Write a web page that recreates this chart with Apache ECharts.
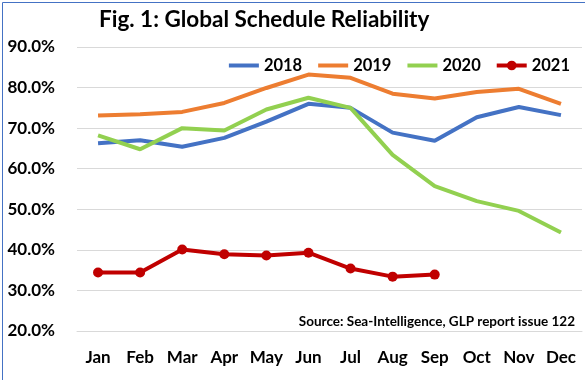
<!DOCTYPE html>
<html>
<head>
<meta charset="utf-8">
<script src="https://cdn.jsdelivr.net/npm/echarts@6/dist/echarts.min.js"></script>
<style>
html,body{margin:0;padding:0;background:#fff;}
#c{width:585px;height:380px;}
</style>
</head>
<body>
<div id="c"></div>
<script>
var months = ['Jan','Feb','Mar','Apr','May','Jun','Jul','Aug','Sep','Oct','Nov','Dec'];
var s2018 = [66.3, 67.0, 65.4, 67.6, 71.6, 76.0, 75.0, 68.9, 66.9, 72.7, 75.2, 73.2];
var s2019 = [73.1, 73.4, 74.0, 76.2, 79.9, 83.2, 82.4, 78.5, 77.3, 78.9, 79.7, 76.0];
var s2020 = [68.2, 64.8, 70.0, 69.4, 74.6, 77.5, 75.0, 63.4, 55.7, 52.0, 49.6, 44.3];
var s2021 = [34.4, 34.4, 40.1, 38.9, 38.6, 39.3, 35.4, 33.4, 33.9];
var seriesNames = ['2018','2019','2020','2021'];
var yTicks = {min: 20, max: 90, step: 10};
var titleText = 'Fig. 1: Global Schedule Reliability';
var sourceText = 'Source: Sea-Intelligence, GLP report issue 122';

var FONT = 'Lato';
var chart = echarts.init(document.getElementById('c'), null, {renderer:'canvas'});
function lineSeries(name, data, color, marker) {
  return {
    name: name, type: 'line', data: data,
    symbol: marker ? 'circle' : 'none',
    symbolSize: 10,
    showSymbol: !!marker,
    lineStyle: {color: color, width: 4},
    itemStyle: {color: color},
    emphasis: {disabled: true},
    animation: false
  };
}
var legendData = seriesNames.map(function(n, i){
  return i < 3 ? {name: n, itemStyle: {opacity: 0}, lineStyle: {width: 4}} : {name: n, lineStyle: {width: 4}};
});
chart.setOption({
  animation: false,
  title: {
    text: titleText, left: 94, top: 3,
    textStyle: {fontFamily: FONT, fontWeight: 'bold', fontSize: 22.5, color: '#000'}
  },
  legend: {
    right: 10, top: 52, itemWidth: 30, itemHeight: 12, itemGap: 14,
    data: legendData,
    lineStyle: {width: 4},
    textStyle: {fontFamily: FONT, fontWeight: 'bold', fontSize: 16.5, color: '#000'}
  },
  grid: {left: 77, right: 3, top: 47, bottom: 49, containLabel: false},
  xAxis: {
    type: 'category', data: months, boundaryGap: true,
    axisLine: {lineStyle: {color: '#D9D9D9', width: 1}},
    axisTick: {inside: true, length: 6, lineStyle: {color: '#D9D9D9'}},
    axisLabel: {interval: 0, margin: 18, fontFamily: FONT, fontWeight: 'bold', fontSize: 17, color: '#000'}
  },
  yAxis: {
    type: 'value', min: yTicks.min, max: yTicks.max, interval: yTicks.step,
    axisLine: {show: false}, axisTick: {show: false},
    splitLine: {lineStyle: {color: '#D9D9D9', width: 1}},
    axisLabel: {margin: 22, fontFamily: FONT, fontWeight: 'bold', fontSize: 17, color: '#000',
      formatter: function(v){ return v.toFixed(1) + '%'; }}
  },
  graphic: [
    {type: 'rect', left: 0, top: 0, silent: true, z: 100,
     shape: {x: 0.5, y: 0.5, width: 583, height: 378},
     style: {fill: 'none', stroke: '#4472C4', lineWidth: 1}},
    {type: 'text', right: 10, top: 315, z: 100,
     style: {text: sourceText, font: 'bold 13.5px ' + FONT, fill: '#000'}}
  ],
  series: [
    lineSeries('2018', s2018, '#4472C4', false),
    lineSeries('2019', s2019, '#ED7D31', false),
    lineSeries('2020', s2020, '#92D050', false),
    lineSeries('2021', s2021, '#C00000', true)
  ]
});
</script>
</body>
</html>
